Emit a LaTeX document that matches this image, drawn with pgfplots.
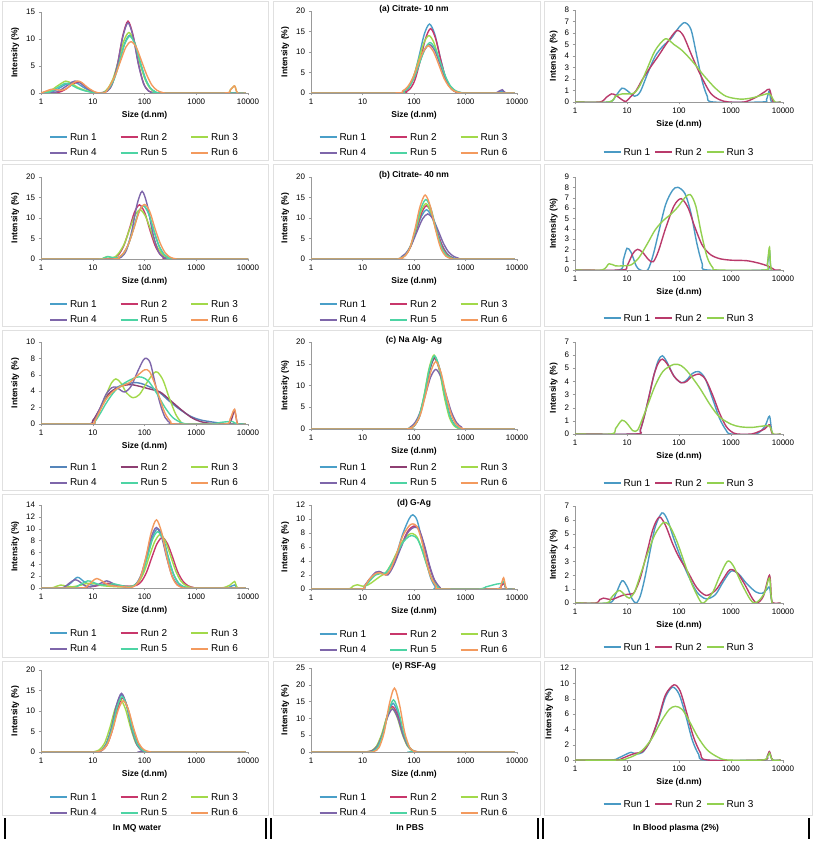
\documentclass[border=0pt]{standalone}
\usepackage{fontspec}
\setmainfont{Liberation Sans}
\usepackage{pgfplots}
\pgfplotsset{compat=1.18}
\definecolor{c1}{HTML}{4A9FC8}
\definecolor{c2}{HTML}{C8376B}
\definecolor{c3}{HTML}{A2D94A}
\definecolor{c4}{HTML}{7E66AA}
\definecolor{c5}{HTML}{4DD4A4}
\definecolor{c6}{HTML}{F39A5E}
\definecolor{c1b}{HTML}{5585BA}
\definecolor{c2b}{HTML}{8E3F72}
\definecolor{b1}{HTML}{4A9AC4}
\definecolor{b2}{HTML}{B93A6B}
\definecolor{b3}{HTML}{92D050}
\pgfplotsset{
  scale only axis, xmin=1, xmax=10000, ymin=0,
  xtick={1,10,100,1000,10000}, xticklabels={1,10,100,1000,10000},
  xminorticks=false, yminorticks=false,
  axis x line*=bottom, axis y line*=left,
  axis line style={-, draw=black!40, line width=0.6pt},
  major tick style={draw=black!40},
  tick align=outside, major tick length=2.5pt,
  tick label style={font=\fontsize{8}{9}\selectfont},
  /pgf/number format/assume math mode=true,
  xlabel={Size (d.nm)}, ylabel={Intensity (\%)},
  label style={font=\bfseries\fontsize{8.5}{10}\selectfont},
  every axis plot/.append style={smooth, line width=1.4pt},
  legend cell align=left,
  legend image code/.code={\draw[#1, line width=1.9pt] (0pt,0pt) -- (17pt,0pt);},
  title style={font=\bfseries\fontsize{8.5}{10}\selectfont, yshift=-12pt},
  legend columns=3,
  legend style={draw=none, fill=none, font=\fontsize{10}{11}\selectfont, at={(0.5,0)}, anchor=north},
}
\begin{document}
\begin{tikzpicture}[x=1pt,y=1pt]
\path[use as bounding box] (0,0) rectangle (814,842);
% panel frames
\foreach \xa/\xb in {2/268,273/540,544/812}{
  \foreach \ya/\yb in {682/841,516/678,352/512,185/348,27/181}{
    \draw[black!12, line width=0.8pt] (\xa,\ya) rectangle (\xb,\yb);
  }
}
% bottom strip
\foreach \xx in {5,266,271,538,543,809}{\draw[black, line width=2.2pt] (\xx,3) -- (\xx,24);}
\node[font=\bfseries\fontsize{8.5}{10}\selectfont] at (137,14) {In MQ water};
\node[font=\bfseries\fontsize{8.5}{10}\selectfont] at (410,14) {In PBS};
\node[font=\bfseries\fontsize{8.5}{10}\selectfont] at (676,14) {In Blood plasma (2\%)};

% ===== Column 1: MQ water =====
% A1
\begin{axis}[xmode=log, legend style={yshift=-36pt, /tikz/every even column/.append style={column sep=21pt}, /tikz/row sep=3pt}, at={(41pt,749pt)}, anchor=south west, width=207pt, height=81pt, ymax=15, ytick={0,5,10,15}]
\addplot[c1] coordinates {(1,0)(1.5,0.1)(2,0.6)(3,1.6)(4,2.0)(5,1.8)(7,0.9)(10,0.2)(13,0)(16.5,0.05)(20.7,0.9)(26,2.7)(32.8,5.8)(41.3,9.2)(52,10.7)(65.5,9.2)(82.4,5.8)(104,2.7)(130,0.9)(164,0.2)(210,0)(9000,0)};
\addplot[c2] coordinates {(1,0)(2,0)(3,0.7)(4,1.6)(5,2.0)(6,1.8)(8,0.9)(11,0.1)(14,0)(19.1,0.37)(24,1.8)(30.3,5.5)(38.1,10.6)(48,13.3)(60.4,10.6)(76,5.5)(95.8,1.8)(120,0.37)(152,0.05)(190,0)(9000,0)};
\addplot[c3] coordinates {(1,0)(1.5,0.4)(2,1.2)(3,2.2)(4,1.7)(5,1.1)(7,0.5)(10,0.1)(13,0)(15.8,0.05)(19.9,0.95)(25,2.8)(31.5,6.0)(39.7,9.6)(50,11.2)(63,9.6)(79,6.0)(100,2.8)(126,0.95)(158,0.2)(200,0)(3500,0)(4500,0.5)(5500,1.3)(6300,0)(9000,0)};
\addplot[c4] coordinates {(1,0)(2,0.2)(3,1.2)(4,2.0)(4.5,2.2)(5.5,2.0)(7,1.2)(10,0.2)(13,0)(19.1,0.36)(24,1.75)(30.3,5.4)(38.1,10.4)(48,13.0)(60.4,10.4)(76,5.4)(95.8,1.75)(120,0.36)(152,0.05)(190,0)(9000,0)};
\addplot[c5] coordinates {(1,0)(1.5,0.2)(2,0.9)(3,1.8)(4,1.4)(5,0.9)(7,0.4)(10,0.1)(13,0)(16.5,0.05)(20.7,0.9)(26,2.6)(32.8,5.7)(41.3,9.0)(52,10.5)(65.5,9.0)(82.4,5.7)(104,2.6)(130,0.9)(164,0.2)(210,0)(9000,0)};
\addplot[c6] coordinates {(1,0)(1.3,0.4)(1.6,0.7)(2,0.6)(2.5,0.5)(3,0.7)(4,1.7)(5,2.2)(6,2.0)(8,1.0)(11,0.2)(14,0)(17.4,0.1)(21.9,1.5)(27.6,3.4)(34.7,6.0)(43.7,8.5)(55,9.5)(69,8.5)(87,6.0)(110,3.4)(138,1.5)(174,0.5)(220,0.1)(280,0)(3500,0)(4500,0.5)(5500,1.3)(6300,0)(9000,0)};
\legend{Run 1,Run 2,Run 3,Run 4,Run 5,Run 6}
\end{axis}
% B1
\begin{axis}[xmode=log, legend style={yshift=-37pt, /tikz/every even column/.append style={column sep=21pt}, /tikz/row sep=3pt}, at={(41pt,583pt)}, anchor=south west, width=207pt, height=82pt, ymax=20, ytick={0,5,10,15,20}]
\addplot[c1] coordinates {(1,0)(22,0)(30,0.27)(37.8,1.1)(47.6,3.25)(60,7.0)(75.5,11.1)(95,13)(120,11.1)(151,7.0)(190,3.25)(239,1.1)(300,0.27)(380,0)(10000,0)};
\addplot[c2] coordinates {(1,0)(19,0)(25.3,0.28)(31.8,1.1)(40,3.3)(50.5,7.1)(63.5,11.3)(80,13.2)(101,11.3)(127,7.1)(160,3.3)(201,1.1)(253,0.28)(320,0)(10000,0)};
\addplot[c3] coordinates {(1,0)(12,0)(16,0.2)(19,0.6)(23,0.3)(27,0.5)(32.6,1.6)(41,3.8)(51.7,7.3)(65,10.6)(82,12)(103,10.6)(130,7.3)(164,3.8)(206,1.6)(259,0.53)(330,0.1)(420,0)(10000,0)};
\addplot[c4] coordinates {(1,0)(22,0)(28.5,0.07)(35.8,0.46)(45,2.2)(56.8,6.8)(71.5,13.2)(90,16.5)(113,13.2)(142,6.8)(180,2.2)(226,0.46)(285,0.07)(360,0)(10000,0)};
\addplot[c5] coordinates {(1,0)(12,0)(16,0.2)(20,0.6)(24,0.35)(30,0.3)(37.8,1.1)(47.6,3.25)(60,7.0)(75.5,11.1)(95,13)(120,11.1)(151,7.0)(190,3.25)(239,1.1)(300,0.27)(380,0)(10000,0)};
\addplot[c6] coordinates {(1,0)(24,0)(31.6,0.41)(39.8,1.5)(50,3.9)(63,7.6)(79.4,11.6)(100,13.3)(126,11.6)(158,7.6)(200,3.9)(251,1.5)(316,0.41)(400,0.05)(500,0)(10000,0)};
\legend{Run 1,Run 2,Run 3,Run 4,Run 5,Run 6}
\end{axis}
% C1
\begin{axis}[xmode=log, legend style={yshift=-35pt, /tikz/every even column/.append style={column sep=21pt}, /tikz/row sep=3pt}, at={(41pt,418pt)}, anchor=south west, width=207pt, height=82pt, ymax=10, ytick={0,2,4,6,8,10}]
\addplot[c1b] coordinates {(1,0)(8,0)(10,0.4)(13,1.5)(17,2.8)(22,3.8)(30,4.5)(45,4.9)(70,5.05)(100,4.8)(150,4.3)(200,3.8)(300,2.8)(500,1.7)(800,0.9)(1200,0.5)(2000,0.25)(3000,0.1)(4500,0)(9000,0)};
\addplot[c2b] coordinates {(1,0)(8,0)(10,0.4)(13,1.6)(17,3.0)(22,3.9)(30,4.4)(40,4.7)(55,4.8)(80,4.6)(120,4.3)(200,3.9)(300,3.0)(500,1.8)(800,0.8)(1200,0.3)(2000,0.05)(3000,0)(4300,0)(5000,0.9)(5500,1.7)(6100,0.3)(6500,0)(9000,0)};
\addplot[c3] coordinates {(1,0)(9,0)(11,0.5)(14,1.8)(18,3.5)(23,5.0)(28,5.5)(35,5.0)(45,3.8)(60,3.2)(80,3.6)(110,5.0)(150,6.2)(180,6.3)(230,5.3)(300,3.2)(400,1.2)(500,0.3)(600,0)(9000,0)};
\addplot[c4] coordinates {(1,0)(9,0)(11,0.5)(14,2.0)(18,3.6)(23,4.4)(28,4.5)(35,4.1)(42,3.9)(55,4.6)(75,6.5)(95,7.8)(110,8.0)(130,7.4)(160,5.0)(200,2.5)(250,0.8)(320,0.1)(400,0)(9000,0)};
\addplot[c5] coordinates {(1,0)(9,0)(11,0.3)(14,1.3)(18,2.5)(25,3.8)(35,4.7)(50,5.3)(70,5.7)(90,5.7)(120,5.2)(170,3.8)(250,2.0)(350,0.8)(500,0.2)(700,0)(2000,0)(3000,0.2)(5000,0.3)(6000,0)(9000,0)};
\addplot[c6] coordinates {(1,0)(9,0)(11,0.4)(14,1.7)(18,3.0)(25,4.0)(35,4.6)(50,5.0)(70,5.8)(100,6.6)(125,6.4)(160,4.8)(200,3.0)(250,1.3)(320,0.3)(400,0)(3500,0)(4500,0.6)(5500,1.8)(6300,0)(9000,0)};
\legend{Run 1,Run 2,Run 3,Run 4,Run 5,Run 6}
\end{axis}
% D1
\begin{axis}[xmode=log, legend style={yshift=-37pt, /tikz/every even column/.append style={column sep=21pt}, /tikz/row sep=3pt}, at={(41pt,254pt)}, anchor=south west, width=207pt, height=83pt, ymax=14, ytick={0,2,4,6,8,10,12,14}]
\addplot[c1] coordinates {(1,0)(2.5,0)(3.5,0.6)(5,1.8)(6.5,1.2)(8,0.7)(11,0.4)(15,0.5)(20,0.6)(30,0.4)(45,0.2)(57,0.25)(72,0.85)(90,2.5)(114,5.4)(143,8.6)(180,10)(227,8.6)(285,5.4)(359,2.5)(452,0.85)(570,0.21)(717,0.03)(900,0)(3500,0)(4500,0.2)(5500,0.5)(6300,0)(9000,0)};
\addplot[c2] coordinates {(1,0)(6,0)(8,0.2)(11,0.3)(15,0.6)(20,0.8)(25,0.6)(35,0.4)(50,0.3)(70,0.45)(88,1.15)(110,2.7)(139,5.2)(175,7.5)(220,8.5)(277,7.5)(349,5.2)(439,2.7)(553,1.15)(697,0.37)(877,0.09)(1100,0)(9000,0)};
\addplot[c3] coordinates {(1,0)(1.6,0)(2,0.3)(2.4,0.5)(3,0.35)(4,0.2)(6,0.5)(8,0.8)(11,0.7)(15,0.4)(20,0.3)(30,0.2)(45,0.2)(63,0.4)(80,1.2)(100,2.9)(126,5.5)(159,7.9)(200,9)(252,7.9)(317,5.5)(400,2.9)(502,1.2)(632,0.4)(796,0.1)(1000,0)(3000,0)(4500,0.5)(5500,1.1)(6300,0)(9000,0)};
\addplot[c4] coordinates {(1,0)(2.5,0)(3.5,0.8)(4.5,1.4)(5.5,1.1)(7,0.4)(9,0.2)(12,0.5)(15,0.9)(18.6,1.2)(23,0.9)(30,0.4)(42,0.2)(54,0.13)(68,0.64)(85,2.1)(107,5.1)(135,8.6)(170,10.2)(214,8.6)(269,5.1)(339,2.1)(427,0.64)(538,0.13)(700,0)(9000,0)};
\addplot[c5] coordinates {(1,0)(4,0)(5.5,0.5)(8,1.2)(10,1.0)(13,0.6)(18,0.5)(25,0.7)(32,0.5)(45,0.25)(57,0.25)(72,0.85)(90,2.4)(114,5.2)(143,8.2)(180,9.5)(227,8.2)(285,5.2)(359,2.4)(452,0.85)(570,0.22)(717,0.04)(900,0)(9000,0)};
\addplot[c6] coordinates {(1,0)(6,0)(8,0.4)(10,1.2)(12,1.6)(15,1.2)(20,0.5)(28,0.3)(40,0.2)(54,0.09)(68,0.5)(85,1.96)(107,5.3)(135,9.4)(170,11.5)(214,9.4)(269,5.3)(339,1.96)(427,0.5)(538,0.09)(680,0)(9000,0)};
\legend{Run 1,Run 2,Run 3,Run 4,Run 5,Run 6}
\end{axis}
% E1
\begin{axis}[xmode=log, legend style={yshift=-37pt, /tikz/every even column/.append style={column sep=21pt}, /tikz/row sep=3pt}, at={(41pt,90pt)}, anchor=south west, width=207pt, height=82pt, ymax=20, ytick={0,5,10,15,20}]
\addplot[c1] coordinates {(1,0)(9,0)(11.4,0.06)(14.3,0.39)(18,1.9)(22.7,5.7)(28.6,11.2)(36,14)(45.3,11.2)(57,5.7)(71.8,1.9)(90.4,0.39)(114,0.06)(145,0)(9000,0)};
\addplot[c2] coordinates {(1,0)(9.5,0)(12,0.05)(15.1,0.37)(19,1.8)(24,5.4)(30.2,10.6)(38,13.2)(47.8,10.6)(60.2,5.4)(75.8,1.8)(95.4,0.37)(120,0.05)(150,0)(9000,0)};
\addplot[c3] coordinates {(1,0)(8.5,0)(10.8,0.1)(13.5,0.56)(17,2.2)(21.4,5.9)(27,10.5)(34,12.8)(42.8,10.5)(53.9,5.9)(67.8,2.2)(85.4,0.56)(108,0.1)(135,0)(9000,0)};
\addplot[c4] coordinates {(1,0)(11,0)(14.3,0.31)(18,1.7)(22.7,5.5)(28.6,11.3)(36,14.3)(45.3,11.3)(57,5.5)(71.8,1.7)(90.4,0.31)(114,0)(9000,0)};
\addplot[c5] coordinates {(1,0)(9.3,0)(11.7,0.05)(14.7,0.38)(18.5,1.8)(23.3,5.5)(29.4,10.8)(37,13.5)(46.6,10.8)(58.6,5.5)(73.8,1.8)(92.9,0.38)(117,0.05)(147,0)(9000,0)};
\addplot[c6] coordinates {(1,0)(9.8,0)(12.3,0.1)(15.5,0.55)(19.5,2.1)(24.6,5.75)(31,10.25)(39,12.5)(49.1,10.25)(61.8,5.75)(77.8,2.1)(97.9,0.55)(123,0.1)(155,0)(9000,0)};
\legend{Run 1,Run 2,Run 3,Run 4,Run 5,Run 6}
\end{axis}

% ===== Column 2: PBS =====
% A2
\begin{axis}[xmode=log, legend style={yshift=-36pt, /tikz/every even column/.append style={column sep=21pt}, /tikz/row sep=3pt}, at={(311pt,749pt)}, anchor=south west, width=206pt, height=82pt, ymax=20, ytick={0,5,10,15,20}, title={(a) Citrate- 10 nm}]
\addplot[c1] coordinates {(1,0)(45,0)(63,0.35)(80,1.4)(100,4.2)(126,9.1)(159,14.4)(200,16.8)(252,14.4)(317,9.1)(400,4.2)(502,1.4)(632,0.35)(800,0)(3500,0)(4500,0.2)(5200,0.5)(6000,0)(9000,0)};
\addplot[c2] coordinates {(1,0)(48,0)(66,0.2)(84,1.0)(105,3.3)(132,7.9)(167,13.2)(210,15.7)(264,13.2)(333,7.9)(419,3.3)(527,1.0)(664,0.2)(850,0)(9000,0)};
\addplot[c3] coordinates {(1,0)(45,0)(62,0.43)(78,1.5)(98,4.1)(123,8.0)(155,12.2)(195,14)(245,12.2)(309,8.0)(389,4.1)(490,1.5)(617,0.43)(780,0.1)(950,0)(9000,0)};
\addplot[c4] coordinates {(1,0)(45,0)(63,0.5)(80,1.6)(100,3.8)(126,7.2)(159,10.4)(200,11.8)(252,10.4)(317,7.2)(400,3.8)(502,1.6)(632,0.5)(800,0.1)(1000,0)(3500,0)(4300,0.3)(5200,0.8)(6000,0)(9000,0)};
\addplot[c5] coordinates {(1,0)(45,0)(65,0.5)(82,1.65)(103,4.0)(130,7.5)(163,10.8)(205,12.3)(258,10.8)(325,7.5)(410,4.0)(515,1.65)(650,0.5)(820,0.1)(1000,0)(9000,0)};
\addplot[c6] coordinates {(1,0)(42,0)(60,0.5)(76,1.6)(95,3.7)(120,7.0)(151,10.1)(190,11.5)(239,10.1)(301,7.0)(379,3.7)(477,1.6)(601,0.5)(760,0.1)(950,0)(9000,0)};
\legend{Run 1,Run 2,Run 3,Run 4,Run 5,Run 6}
\end{axis}
% B2
\begin{axis}[xmode=log, legend style={yshift=-37pt, /tikz/every even column/.append style={column sep=21pt}, /tikz/row sep=3pt}, at={(311pt,583pt)}, anchor=south west, width=206pt, height=82pt, ymax=20, ytick={0,5,10,15,20}, title={(b) Citrate- 40 nm}]
\addplot[c1] coordinates {(1,0)(40,0)(55,0.37)(70,1.3)(88,3.5)(110,6.9)(139,10.4)(175,12)(220,10.4)(277,6.9)(349,3.5)(440,1.3)(553,0.37)(700,0.05)(850,0)(9000,0)};
\addplot[c2] coordinates {(1,0)(40,0)(55,0.27)(70,1.1)(88,3.25)(110,7.0)(139,11.1)(175,13)(220,11.1)(277,7.0)(349,3.25)(440,1.1)(553,0.27)(700,0)(9000,0)};
\addplot[c3] coordinates {(1,0)(40,0)(54,0.22)(68,0.95)(85,3.0)(107,6.9)(135,11.4)(170,13.5)(214,11.4)(269,6.9)(339,3.0)(427,0.95)(538,0.22)(680,0)(9000,0)};
\addplot[c4] coordinates {(1,0)(40,0)(58.5,0.66)(73.6,1.76)(92.7,3.96)(117,7.0)(147,9.8)(185,11)(233,9.8)(293,7.0)(369,3.96)(465,1.76)(585,0.66)(737,0.19)(928,0)(9000,0)};
\addplot[c5] coordinates {(1,0)(40,0)(54,0.19)(68,0.91)(85,3.0)(107,7.25)(135,12.2)(170,14.5)(214,12.2)(269,7.25)(339,3.0)(427,0.91)(538,0.19)(680,0)(9000,0)};
\addplot[c6] coordinates {(1,0)(40,0)(52,0.12)(66,0.69)(83,2.65)(104,7.2)(131,12.8)(165,15.6)(208,12.8)(262,7.2)(330,2.65)(415,0.69)(522,0.12)(660,0)(9000,0)};
\legend{Run 1,Run 2,Run 3,Run 4,Run 5,Run 6}
\end{axis}
% C2
\begin{axis}[xmode=log, legend style={yshift=-30pt, /tikz/every even column/.append style={column sep=21pt}, /tikz/row sep=3pt}, at={(311pt,413pt)}, anchor=south west, width=206pt, height=87pt, ymax=20, ytick={0,5,10,15,20}, title={(c) Na Alg- Ag}]
\addplot[c1] coordinates {(1,0)(60,0)(81,0.13)(101,0.73)(128,2.8)(161,7.6)(203,13.5)(255,16.5)(321,13.5)(404,7.6)(509,2.8)(640,0.73)(806,0.13)(1000,0)(9000,0)};
\addplot[c2b] coordinates {(1,0)(60,0)(79,0.12)(100,0.72)(125,2.77)(158,7.5)(199,13.4)(250,16.3)(315,13.4)(396,7.5)(499,2.77)(628,0.72)(791,0.12)(1000,0)(9000,0)};
\addplot[c3] coordinates {(1,0)(60,0)(77.5,0.09)(97.5,0.61)(123,2.6)(155,7.4)(195,13.8)(245,17)(308,13.8)(388,7.4)(489,2.6)(615,0.61)(775,0.09)(980,0)(9000,0)};
\addplot[c4] coordinates {(1,0)(62,0)(84,0.42)(105,1.5)(133,4.0)(167,7.9)(210,11.9)(265,13.7)(334,11.9)(420,7.9)(529,4.0)(666,1.5)(839,0.42)(1050,0)(9000,0)};
\addplot[c5] coordinates {(1,0)(60,0)(79,0.13)(100,0.74)(125,2.86)(158,7.7)(199,13.8)(250,16.8)(315,13.8)(396,7.7)(499,2.86)(628,0.74)(791,0.13)(1000,0)(9000,0)};
\addplot[c6] coordinates {(1,0)(62,0)(84,0.2)(105,1.0)(133,3.3)(167,7.75)(210,13.0)(265,15.5)(334,13.0)(420,7.75)(529,3.3)(666,1.0)(839,0.2)(1050,0)(9000,0)};
\legend{Run 1,Run 2,Run 3,Run 4,Run 5,Run 6}
\end{axis}
% D2
\begin{axis}[xmode=log, legend style={yshift=-37pt, /tikz/every even column/.append style={column sep=21pt}, /tikz/row sep=3pt}, at={(311pt,253pt)}, anchor=south west, width=206pt, height=84pt, ymax=12, ytick={0,2,4,6,8,10,12}, title={(d) G-Ag}]
\addplot[c1] coordinates {(1,0)(9,0)(11,0.5)(14,1.5)(18,2.2)(22,2.3)(28,2.1)(35,2.8)(45,4.8)(60,7.8)(80,10.0)(95,10.6)(115,9.8)(140,7.2)(170,4.2)(210,1.6)(260,0.3)(300,0)(3500,0)(4800,0.3)(5500,0.9)(6300,0)(9000,0)};
\addplot[c2] coordinates {(1,0)(9,0)(11,0.4)(14,1.4)(18,2.3)(21,2.5)(26,2.2)(31,2.1)(40,3.6)(55,6.0)(75,8.2)(100,9.0)(125,8.5)(160,6.0)(200,3.2)(250,1.2)(320,0.2)(380,0)(4000,0)(4800,0.3)(5500,0.8)(6300,0)(9000,0)};
\addplot[c3] coordinates {(1,0)(5,0)(6.5,0.4)(8,0.6)(10,0.4)(13,0.6)(17,1.2)(22,1.8)(28,2.3)(35,3.4)(45,5.0)(60,6.8)(80,7.8)(95,7.9)(115,7.4)(140,5.8)(180,3.3)(230,1.2)(300,0.2)(350,0)(9000,0)};
\addplot[c4] coordinates {(1,0)(9,0)(11,0.4)(14,1.5)(18,2.4)(21,2.5)(26,2.2)(31,2.0)(40,3.3)(55,5.8)(75,8.0)(100,8.8)(125,8.5)(160,6.2)(200,3.4)(250,1.3)(320,0.2)(380,0)(9000,0)};
\addplot[c5] coordinates {(1,0)(9,0)(11,0.3)(14,1.2)(18,2.0)(22,2.2)(28,2.3)(35,3.3)(45,4.8)(60,6.6)(80,7.5)(95,7.6)(115,7.2)(140,5.8)(180,3.3)(230,1.2)(300,0.2)(350,0)(1800,0)(2500,0.3)(4000,0.7)(5000,0.8)(5500,1.1)(6300,0)(9000,0)};
\addplot[c6] coordinates {(1,0)(9,0)(11,0.4)(14,1.5)(18,2.2)(22,2.3)(28,2.0)(35,2.8)(45,4.8)(60,7.5)(80,9.0)(95,9.3)(115,8.9)(140,7.0)(170,4.3)(210,1.8)(270,0.4)(330,0)(4000,0)(4800,0.4)(5500,1.6)(6300,0)(9000,0)};
\legend{Run 1,Run 2,Run 3,Run 4,Run 5,Run 6}
\end{axis}
% E2
\begin{axis}[xmode=log, legend style={yshift=-37pt, /tikz/every even column/.append style={column sep=21pt}, /tikz/row sep=3pt}, at={(311pt,90pt)}, anchor=south west, width=206pt, height=84pt, ymax=25, ytick={0,5,10,15,20,25}, title={(e) RSF-Ag}]
\addplot[c1] coordinates {(1,0)(12,0)(15.7,0.25)(19.7,1.45)(24.8,5.2)(31.3,11.2)(39.3,14.5)(49.7,11.2)(62.3,5.2)(78.7,1.45)(99,0.25)(125,0)(9000,0)};
\addplot[c2] coordinates {(1,0)(9.3,0)(12,0.05)(15.3,0.38)(19.3,1.8)(24.3,5.5)(30.3,10.8)(38.3,13.5)(48.3,10.8)(60.7,5.5)(76.7,1.8)(96.3,0.38)(121,0.05)(153,0)(9000,0)};
\addplot[c3] coordinates {(1,0)(9.3,0)(11.8,0.05)(14.9,0.36)(18.7,1.75)(23.6,5.3)(29.7,10.4)(37.3,13)(47,10.4)(59.3,5.3)(74.7,1.75)(94,0.36)(118,0.05)(150,0)(9000,0)};
\addplot[c4] coordinates {(1,0)(9.3,0)(12,0.05)(15.3,0.36)(19.3,1.7)(24.3,5.2)(30.3,10.2)(38.3,12.8)(48.3,10.2)(60.7,5.2)(76.7,1.7)(96.3,0.36)(121,0.05)(153,0)(9000,0)};
\addplot[c5] coordinates {(1,0)(12,0)(16,0.26)(20,1.55)(25.3,5.6)(31.7,12)(40,15.5)(50.3,12)(63.3,5.6)(80,1.55)(101,0.26)(127,0)(9000,0)};
\addplot[c6] coordinates {(1,0)(12.7,0)(16.7,0.17)(20.9,1.3)(26.3,5.8)(33,14.1)(41.7,19)(52.3,14.1)(66,5.8)(83,1.3)(105,0.17)(133,0)(9000,0)};
\legend{Run 1,Run 2,Run 3,Run 4,Run 5,Run 6}
\end{axis}

% ===== Column 3: Blood plasma =====
% A3
\begin{axis}[xmode=log, legend style={yshift=-42pt, /tikz/every even column/.append style={column sep=2pt}}, at={(575pt,740pt)}, anchor=south west, width=208pt, height=92pt, ymax=8, ytick={0,1,2,3,4,5,6,7,8}]
\addplot[b1] coordinates {(1,0)(4.5,0)(6,0.5)(8,1.2)(10,1.0)(14,0.5)(18,0.9)(25,2.5)(35,4.0)(50,4.9)(70,5.5)(100,6.5)(130,6.9)(170,6.3)(220,4.0)(280,1.8)(350,0.5)(450,0)(4000,0)(4800,0.2)(5500,1.0)(6000,0)(9000,0)};
\addplot[b2] coordinates {(1,0)(3,0)(4,0.4)(5,0.7)(6,0.6)(8,0.2)(9.5,0.05)(12,0.5)(15,1.0)(20,2.0)(28,3.0)(40,4.0)(60,5.2)(90,6.2)(120,5.8)(170,4.2)(250,2.5)(400,0.8)(600,0.2)(900,0)(1800,0)(3000,0.4)(4500,0.9)(5500,1.1)(6500,0)(9000,0)};
\addplot[b3] coordinates {(1,0)(4.5,0)(6,0.5)(8,0.7)(11,0.7)(14,0.8)(18,1.5)(25,3.0)(35,4.5)(55,5.5)(80,5.0)(120,4.4)(200,3.3)(300,2.3)(500,1.2)(800,0.5)(1500,0.25)(2500,0.35)(4000,0.6)(5500,0.7)(7000,0)(9000,0)};
\legend{Run 1,Run 2,Run 3}
\end{axis}
% B3
\begin{axis}[xmode=log, legend style={yshift=-40pt, /tikz/every even column/.append style={column sep=2pt}}, at={(575pt,572pt)}, anchor=south west, width=208pt, height=93pt, ymax=9, ytick={0,1,2,3,4,5,6,7,8,9}]
\addplot[b1] coordinates {(1,0)(7,0)(8.5,1.0)(10,2.1)(12,1.7)(15,0.4)(18,0)(25,0)(32,1.5)(40,3.5)(55,6.3)(75,7.7)(95,8.0)(130,7.4)(170,5.5)(220,2.6)(280,0.6)(350,0)(4500,0)(5000,0.5)(5500,1.8)(6000,0)(9000,0)};
\addplot[b2] coordinates {(1,0)(8,0)(10,0.4)(13,1.6)(16,2.0)(20,1.7)(26,1.0)(32,0.8)(40,1.8)(55,4.0)(80,6.2)(110,6.9)(150,6.0)(200,4.2)(280,2.4)(400,1.5)(600,1.1)(1000,0.95)(2000,0.9)(3500,0.65)(5000,0.4)(6000,0.2)(7000,0)(9000,0)};
\addplot[b3] coordinates {(1,0)(3.3,0)(4.5,0.6)(6,0.4)(8,0.4)(12,0.5)(17,1.2)(25,2.6)(35,3.9)(50,4.8)(70,5.4)(95,6.1)(130,7.0)(165,7.3)(210,6.2)(270,3.5)(350,1.2)(450,0.2)(550,0)(4500,0)(5000,0.6)(5500,2.2)(6000,0)(9000,0)};
\legend{Run 1,Run 2,Run 3}
\end{axis}
% C3
\begin{axis}[xmode=log, legend style={yshift=-41pt, /tikz/every even column/.append style={column sep=2pt}}, at={(575pt,408pt)}, anchor=south west, width=208pt, height=92pt, ymax=7, ytick={0,1,2,3,4,5,6,7}]
\addplot[b1] coordinates {(1,0)(15,0)(18,0.3)(22,1.5)(27,3.0)(33,4.5)(40,5.6)(48,5.95)(60,5.4)(80,4.4)(110,3.9)(140,4.1)(180,4.6)(240,4.75)(320,4.2)(450,2.6)(600,1.2)(800,0.3)(1000,0)(3000,0)(4500,0.6)(5500,1.35)(6300,0)(9000,0)};
\addplot[b2] coordinates {(1,0)(15,0)(18,0.3)(22,1.5)(27,3.0)(33,4.5)(40,5.4)(48,5.7)(60,5.3)(80,4.4)(110,3.9)(140,4.0)(180,4.4)(250,4.55)(330,4.1)(450,2.9)(600,1.6)(800,0.6)(1000,0.2)(1300,0)(2500,0)(3500,0.2)(4500,0.4)(5500,0.7)(6300,0)(9000,0)};
\addplot[b3] coordinates {(1,0)(5,0)(6,0.4)(8,1.05)(10,0.8)(13,0.25)(16,0.3)(20,1.2)(25,2.2)(35,3.7)(50,4.8)(80,5.3)(110,5.2)(150,4.7)(250,3.5)(400,2.2)(600,1.3)(1000,0.75)(1500,0.55)(2500,0.5)(4000,0.6)(5500,0.6)(6500,0)(9000,0)};
\legend{Run 1,Run 2,Run 3}
\end{axis}
% D3
\begin{axis}[xmode=log, legend style={yshift=-36pt, /tikz/every even column/.append style={column sep=2pt}}, at={(575pt,239pt)}, anchor=south west, width=208pt, height=97pt, ymax=7, ytick={0,1,2,3,4,5,6,7}]
\addplot[b1] coordinates {(1,0)(4.5,0)(6,0.6)(8,1.6)(10,1.2)(12.5,0.3)(15,0)(18,0.5)(22,1.8)(28,3.8)(35,5.5)(47,6.5)(60,6.0)(80,4.6)(110,3.2)(150,2.0)(220,0.8)(330,0.3)(500,0.6)(700,1.5)(1000,2.3)(1400,2.1)(2000,1.4)(3000,0.8)(4000,0.7)(5000,1.0)(5500,1.15)(6300,0)(9000,0)};
\addplot[b2] coordinates {(1,0)(2.5,0)(3,0.25)(3.5,0.35)(5,0.25)(7,0.45)(9,0.6)(12,0.65)(14,0.8)(18,1.8)(24,3.6)(32,5.4)(42,6.2)(55,5.6)(75,4.3)(100,3.3)(150,2.2)(220,1.1)(330,0.55)(500,0.9)(700,1.7)(950,2.4)(1300,2.2)(1800,1.4)(2600,0.3)(3200,0)(4200,0.5)(5500,2.0)(6000,0.3)(6500,0)(9000,0)};
\addplot[b3] coordinates {(1,0)(4,0)(5,0.4)(7,0.9)(9,0.6)(11,0.35)(14,0.8)(18,2.0)(25,3.6)(35,5.0)(50,5.8)(65,5.6)(90,4.5)(130,2.8)(180,1.3)(250,0.2)(280,0)(320,0.1)(450,0.8)(600,1.9)(850,3.0)(1100,2.7)(1600,1.4)(2300,0.3)(2800,0)(3500,0.2)(4500,0.8)(5500,1.8)(6200,0)(9000,0)};
\legend{Run 1,Run 2,Run 3}
\end{axis}
% E3
\begin{axis}[xmode=log, legend style={yshift=-36pt, /tikz/every even column/.append style={column sep=2pt}}, at={(575pt,82pt)}, anchor=south west, width=208pt, height=92pt, ymax=12, ytick={0,2,4,6,8,10,12}]
\addplot[b1] coordinates {(1,0)(5,0)(7,0.3)(10,0.8)(12,1.0)(15,0.8)(20,1.0)(28,2.5)(40,5.2)(55,8.2)(75,9.5)(100,8.6)(135,5.8)(180,2.6)(240,0.7)(320,0)(4000,0)(5000,0.5)(5500,1.0)(6300,0)(9000,0)};
\addplot[b2] coordinates {(1,0)(6,0)(8,0.2)(11,0.6)(15,0.9)(20,1.1)(28,2.5)(40,5.4)(55,8.5)(80,9.8)(105,9.0)(140,6.2)(190,3.0)(260,0.9)(350,0)(4000,0)(5000,0.5)(5500,1.1)(6300,0)(9000,0)};
\addplot[b3] coordinates {(1,0)(7,0)(10,0.2)(14,0.6)(20,1.3)(30,2.8)(45,5.0)(65,6.6)(85,7.0)(115,6.6)(160,5.0)(230,3.0)(350,1.3)(550,0.4)(850,0)(4000,0)(5000,0.4)(5500,0.9)(6300,0)(9000,0)};
\legend{Run 1,Run 2,Run 3}
\end{axis}
\end{tikzpicture}
\end{document}
